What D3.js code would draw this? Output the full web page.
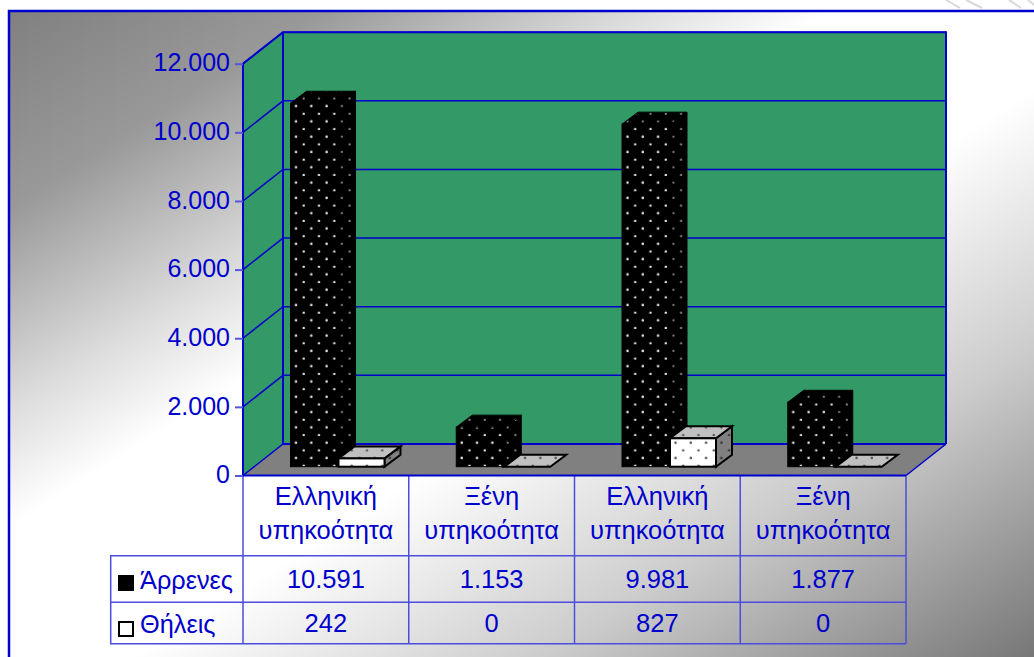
<!DOCTYPE html>
<html lang="el">
<head>
    <meta charset="UTF-8">
    <title>Άρρενες - Θήλεις ανά υπηκοότητα</title>
    <script src="https://d3js.org/d3.v7.min.js"></script>
    <style>
        html, body { margin: 0; padding: 0; background: #fff; overflow: hidden; }
        svg { display: block; }
        text { font-family: "Liberation Sans", Arial, sans-serif; fill: #0000cc; }
        .tick text { font-size: 25px; }
        .tick line { stroke: #5555dd; stroke-width: 2px; }
        .cell { font-size: 25.5px; text-anchor: middle; }
        .legend-label { font-size: 25.3px; }
        .grid { stroke: #0000cc; stroke-width: 1.5px; fill: none; }
        .wall-edge { stroke: #0000cc; stroke-width: 2px; fill: none; }
        .table-line { stroke: #4d4ddd; stroke-width: 1.5px; fill: none; }
    </style>
</head>
<body>
    <svg width="1034" height="657"></svg>
    <script>
        const categories = [
            ["Ελληνική", "υπηκοότητα"],
            ["Ξένη", "υπηκοότητα"],
            ["Ελληνική", "υπηκοότητα"],
            ["Ξένη", "υπηκοότητα"]
        ];
        const seriesNames = ["Άρρενες", "Θήλεις"];
        const males = [10591, 1153, 9981, 1877];
        const females = [242, 0, 827, 0];
        const yTicks = [0, 2000, 4000, 6000, 8000, 10000, 12000];

        const svg = d3.select("svg");
        const defs = svg.append("defs");
        const fmt = d3.formatLocale({ decimal: ",", thousands: ".", grouping: [3], currency: ["", ""] }).format(",d");

        // plot box, front plane + depth offset of the 3d walls
        const left = 243, right = 906, depthX = 40, depthY = 31.5;
        const y = d3.scaleLinear().domain([0, 12000]).range([475.5, 63.7]);
        const x = d3.scaleBand().domain(d3.range(categories.length)).range([left, right]);
        const barX = d3.scaleBand().domain(seriesNames).range([47, 143]);
        const barDepthX = 16, barDepthY = 12, floorLift = 9;

        // background gradient, stops
        const bg = defs.append("linearGradient").attr("id", "bg")
            .attr("x1", 0).attr("y1", 0).attr("x2", 1).attr("y2", 1);
        [[0, "#808080"], [0.154, "#999999"], [0.31, "#dddddd"], [0.4, "#ffffff"],
         [0.56, "#ffffff"], [0.76, "#cccccc"], [1, "#777777"]].forEach(s => {
            bg.append("stop").attr("offset", s[0]).attr("stop-color", s[1]);
        });

        // dotted fills
        function dots(id, base, dot, r) {
            const p = defs.append("pattern").attr("id", id)
                .attr("patternUnits", "userSpaceOnUse")
                .attr("width", 15.3).attr("height", 15.3);
            p.append("rect").attr("width", 15.3).attr("height", 15.3).attr("fill", base);
            p.append("circle").attr("cx", 5.5).attr("cy", 6.6).attr("r", r).attr("fill", dot);
            p.append("circle").attr("cx", 13.2).attr("cy", 14.3).attr("r", r).attr("fill", dot);
        }
        dots("blackFront", "#000", "#e4e4e4", 1.25);
        dots("blackSide", "#000", "#8a8a8a", 1.1);
        dots("whiteFront", "#fff", "#555", 1.25);
        dots("whiteTop", "#c0c0c0", "#555", 1.25);
        dots("whiteSide", "#808080", "#333", 1.25);

        svg.append("rect").attr("x", 9).attr("y", 11).attr("width", 1025).attr("height", 646)
            .attr("fill", "url(#bg)");
        svg.append("path").attr("d", "M9,660V11H1034").attr("fill", "none")
            .attr("stroke", "#0000cc").attr("stroke-width", 2.5);

        // faint strokes above the frame, belongs to the slide behind
        svg.append("g").attr("stroke", "#d8d8d8").attr("stroke-width", 2)
            .selectAll("line").data([[946, 960], [966, 982], [1009, 1021], [1028, 1038]])
            .join("line")
            .attr("x1", d => d[0]).attr("y1", 0)
            .attr("x2", d => d[1]).attr("y2", 8);

        // walls and floor
        const y0 = y(0), yTop = y(12000);
        svg.append("path")
            .attr("d", `M${left},${y0}L${left},${yTop}L${left + depthX},${yTop - depthY}L${right + depthX},${yTop - depthY}L${right + depthX},${y0 - depthY}L${left + depthX},${y0 - depthY}Z`)
            .attr("fill", "#339966");
        svg.append("path")
            .attr("d", `M${left},${y0}L${left + depthX},${y0 - depthY}L${right + depthX},${y0 - depthY}L${right},${y0}Z`)
            .attr("fill", "#808080");

        // grid lines run across the side wall and the back wall
        svg.append("g").selectAll("path").data(yTicks).join("path")
            .attr("class", "grid")
            .attr("d", d => `M${left},${y(d)}L${left + depthX},${y(d) - depthY}L${right + depthX},${y(d) - depthY}`);

        svg.append("path").attr("class", "wall-edge")
            .attr("d", `M${left},${y0}L${left},${yTop}L${left + depthX},${yTop - depthY}L${right + depthX},${yTop - depthY}L${right + depthX},${y0 - depthY}M${left + depthX},${yTop - depthY}L${left + depthX},${y0 - depthY}L${right + depthX},${y0 - depthY}`);
        svg.append("path").attr("class", "grid")
            .attr("d", `M${right},${y0}L${right + depthX},${y0 - depthY}`);

        // y axis
        const axis = d3.axisLeft(y).tickValues(yTicks).tickFormat(fmt).tickSize(8).tickPadding(5);
        svg.append("g").attr("transform", `translate(${left},0)`).call(axis)
            .call(g => g.select(".domain").remove())
            .call(g => g.selectAll("text").attr("dy", "0.29em"));

        // bars, back series drawn first so the white one sits in front
        const styles = {
            "Άρρενες": { values: males, front: "blackFront", top: "blackSide", side: "blackSide", stroke: "#000", sw: 1, w: 49 },
            "Θήλεις": { values: females, front: "whiteFront", top: "whiteTop", side: "whiteSide", stroke: "#000", sw: 2, w: 46 }
        };
        seriesNames.forEach(name => {
            const s = styles[name];
            const bars = svg.append("g").selectAll("g").data(s.values).join("g")
                .attr("transform", (d, i) => `translate(${x(i) + barX(name) + 0.5},${y0 - floorLift + 0.2})`)
                .attr("stroke", s.stroke).attr("stroke-width", s.sw).attr("stroke-linejoin", "miter");
            const h = d => y0 - y(d);
            bars.filter(d => d > 0).append("path")
                .attr("fill", `url(#${s.side})`)
                .attr("d", d => `M${s.w},0V${-h(d)}L${s.w + barDepthX},${-h(d) - barDepthY}V${-barDepthY}Z`);
            bars.append("path")
                .attr("fill", `url(#${s.top})`)
                .attr("d", d => `M0,${-h(d)}L${barDepthX},${-h(d) - barDepthY}H${s.w + barDepthX}L${s.w},${-h(d)}Z`);
            bars.filter(d => d > 0).append("rect")
                .attr("fill", `url(#${s.front})`)
                .attr("y", d => -h(d)).attr("width", s.w).attr("height", h);
        });

        // data table
        const rowTop = 555.7, rowMid = 602.2, rowBottom = 643.7, keyLeft = 110.7;
        const tableGrid = svg.append("g").attr("class", "table-line");
        const colEdges = x.domain().map(i => x(i)).concat(right);
        tableGrid.selectAll("line.col").data(colEdges).join("line").attr("class", "col")
            .attr("x1", d => d).attr("x2", d => d)
            .attr("y1", y0).attr("y2", rowBottom);
        tableGrid.append("path")
            .attr("d", `M${left},${rowTop}H${keyLeft}V${rowBottom}H${right}M${keyLeft},${rowMid}H${right}M${left},${rowTop}H${right}`);
        svg.append("line").attr("x1", left).attr("x2", right).attr("y1", y0).attr("y2", y0)
            .attr("stroke", "#0000cc").attr("stroke-width", 2);

        categories.forEach((lines, i) => {
            svg.append("g").selectAll("text").data(lines).join("text")
                .attr("class", "cell")
                .attr("x", x(i) + x.bandwidth() / 2)
                .attr("y", (d, j) => 505 + j * 34)
                .text(d => d);
        });

        const rows = [males, females];
        const rowBase = [588, 632];
        rows.forEach((vals, r) => {
            svg.append("g").selectAll("text").data(vals).join("text")
                .attr("class", "cell")
                .attr("x", (d, i) => x(i) + x.bandwidth() / 2)
                .attr("y", rowBase[r])
                .text(d => fmt(d));
        });

        // legend keys
        svg.append("g").selectAll("rect").data(seriesNames).join("rect")
            .attr("x", 119).attr("width", 14).attr("height", 14)
            .attr("y", (d, i) => [576, 622][i])
            .attr("fill", d => (d === seriesNames[0] ? "#000" : "#fff"))
            .attr("stroke", "#000").attr("stroke-width", 2);
        svg.append("g").selectAll("text").data(seriesNames).join("text")
            .attr("class", "legend-label")
            .attr("x", 140)
            .attr("y", (d, i) => rowBase[i] + 1)
            .text(d => d);
    </script>
</body>
</html>
